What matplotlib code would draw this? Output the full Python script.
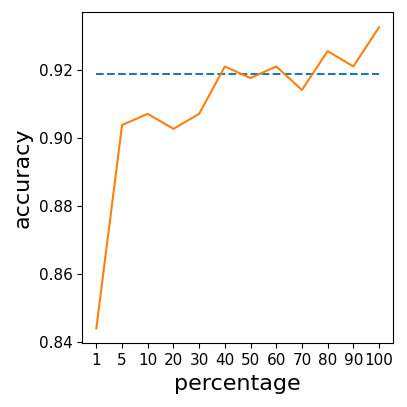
import numpy as np
import matplotlib
matplotlib.use("Agg")
import matplotlib.pyplot as plt

# percentage of training data used vs accuracy
percentages = ['1', '5', '10', '20', '30', '40', '50', '60', '70', '80', '90', '100']
accuracy = [0.8441, 0.9037, 0.9070, 0.9026, 0.9070, 0.9209, 0.9175, 0.9209, 0.9140, 0.9254, 0.9209, 0.9324]
baseline = 0.9186

x = np.arange(len(percentages))

fig = plt.figure(figsize=(4.07, 4.07), dpi=100)
ax = fig.add_axes([0.202, 0.1565, 0.764, 0.8135])

ax.plot(x, [baseline] * len(x), linestyle='--', color='tab:blue')
ax.plot(x, accuracy, color='tab:orange')

ax.set_xticks(x)
ax.set_xticklabels(percentages)
ax.set_yticks([0.84, 0.86, 0.88, 0.90, 0.92])
ax.tick_params(labelsize=11)

ax.set_xlabel('percentage', fontsize=16)
ax.set_ylabel('accuracy', fontsize=16)

fig.savefig('out.png', dpi=100)
